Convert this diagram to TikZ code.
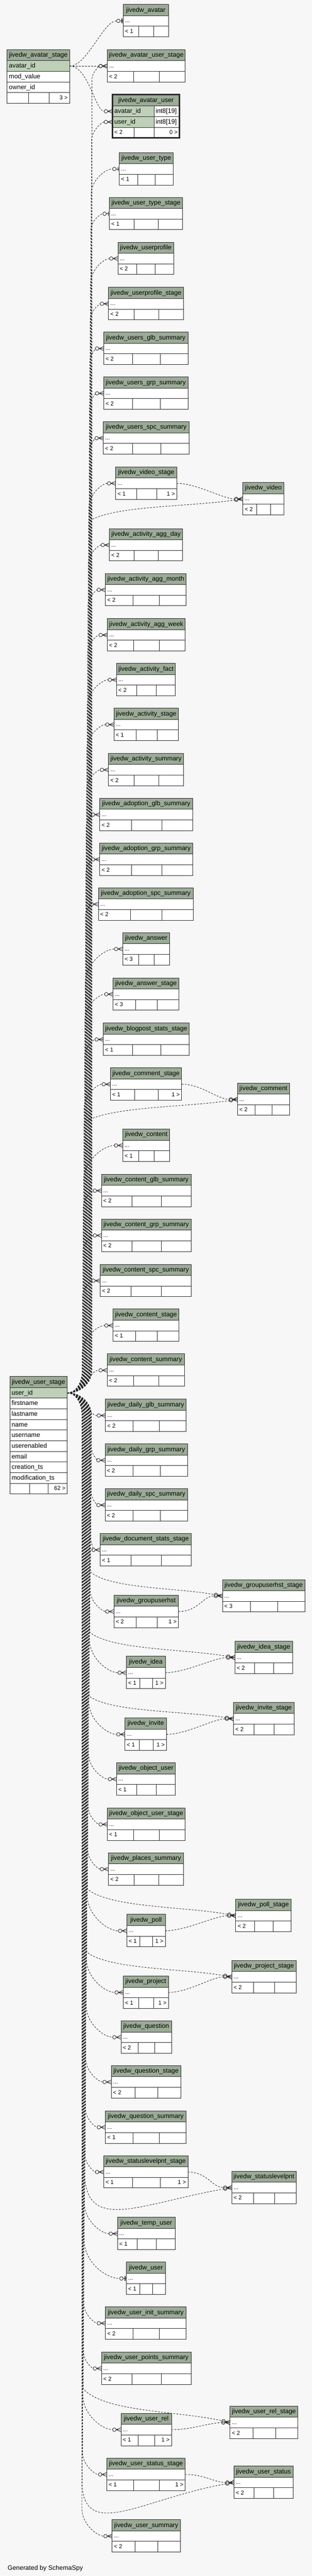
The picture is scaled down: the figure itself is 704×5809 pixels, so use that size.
\documentclass[tikz,border=0pt]{standalone}
\usepackage{fontspec}
\setmainfont{Liberation Sans}
\usepackage{xcolor}
\usepackage{tikz}
\usetikzlibrary{calc}

\definecolor{dwbg}{HTML}{F7F7F7}
\definecolor{dwhead}{HTML}{9BAB96}
\definecolor{dwkey}{HTML}{BED1B8}
\definecolor{dwline}{HTML}{2B2B2B}

\newcommand{\dwfont}{\fontsize{14.5}{16}\selectfont}
\newcommand{\dwsmall}{\fontsize{13}{15}\selectfont}

% zero-or-many and zero-or-one ends
\pgfdeclarearrow{
  name = crowodot,
  parameters = {},
  setup code = {
    \pgfarrowssettipend{0pt}
    \pgfarrowssetlineend{-19pt}
    \pgfarrowssetbackend{-19.5pt}
    \pgfarrowshullpoint{0pt}{4.5pt}
    \pgfarrowshullpoint{0pt}{-4.5pt}
    \pgfarrowshullpoint{-19.5pt}{0pt}
  },
  drawing code = {
    \pgfsetdash{}{0pt}
    \pgfsetroundjoin
    \pgfpathmoveto{\pgfqpoint{0pt}{4.5pt}}
    \pgfpathlineto{\pgfqpoint{-11pt}{0pt}}
    \pgfpathlineto{\pgfqpoint{0pt}{-4.5pt}}
    \pgfpathmoveto{\pgfqpoint{-11pt}{0pt}}
    \pgfpathlineto{\pgfqpoint{0pt}{0pt}}
    \pgfusepathqstroke
    \pgfpathcircle{\pgfqpoint{-15pt}{0pt}}{4pt}
    \pgfusepathqstroke
  }
}
\pgfdeclarearrow{
  name = teeodot,
  parameters = {},
  setup code = {
    \pgfarrowssettipend{0pt}
    \pgfarrowssetlineend{-15pt}
    \pgfarrowssetbackend{-15.5pt}
    \pgfarrowshullpoint{0pt}{5pt}
    \pgfarrowshullpoint{0pt}{-5pt}
    \pgfarrowshullpoint{-15.5pt}{0pt}
  },
  drawing code = {
    \pgfsetdash{}{0pt}
    \pgfpathmoveto{\pgfqpoint{-7pt}{0pt}}
    \pgfpathlineto{\pgfqpoint{0pt}{0pt}}
    \pgfusepathqstroke
    \pgfpathcircle{\pgfqpoint{-11pt}{0pt}}{4pt}
    \pgfusepathqstroke
    \pgfsetlinewidth{2pt}
    \pgfpathmoveto{\pgfqpoint{-2.5pt}{-5pt}}
    \pgfpathlineto{\pgfqpoint{-2.5pt}{5pt}}
    \pgfusepathqstroke
  }
}

\tikzset{
  dwcell/.style={draw=dwline, line width=1pt, inner sep=0pt, outer sep=0pt, minimum height=24pt},
  tabhead/.style={dwcell, fill=dwhead, minimum height=25pt, font=\dwfont, text height=11pt, text depth=2.5pt},
  tabrow/.style={dwcell, fill=white},
  keyrow/.style={dwcell, fill=dwkey},
  coltext/.style={anchor=west, inner sep=0pt, font=\dwfont, text height=11pt, text depth=2.5pt},
  foottext/.style={inner sep=0pt, font=\dwsmall, text height=10pt, text depth=2.5pt},
  reledge/.style={draw=black!85, line width=1pt, dash pattern=on 4pt off 3pt}
}

% footer row: name, node above, width, left text, right text
\newcommand{\dwfoot}[5]{%
  \node[tabrow, minimum width=#3pt, anchor=north west] (#1) at (#2.south west) {};
  \draw[dwline, line width=1pt] ([xshift=0.34*#3pt]#1.north west) -- ([xshift=0.34*#3pt]#1.south west)
    ([xshift=0.67*#3pt]#1.north west) -- ([xshift=0.67*#3pt]#1.south west);
  \node[foottext, anchor=west] at ([xshift=4pt]#1.west) {#4};
  \node[foottext, anchor=east] at ([xshift=-4pt]#1.east) {#5};}

% collapsed table: name, x, y, width, footer left, footer right
\newcommand{\dwtable}[6]{%
  \node[tabhead, minimum width=#4pt, anchor=north west] (#1-h) at (#2,#3) {jivedw\_\detokenize{#1}};
  \node[tabrow, minimum width=#4pt, anchor=north west] (#1) at (#1-h.south west) {};
  \node[foottext, anchor=west] at ([xshift=4pt]#1.west) {...};
  \dwfoot{#1-f}{#1}{#4}{#5}{#6}}

% edges from user_id of jivedw_user_stage, run through the bundle at x = #3
\newcommand{\upedge}[3][crowodot]{%
  \draw[reledge, -#1] let \p1=(#2.west), \p2=(uid.east), \n1={max(0.9*(\x1-#3pt),25pt)} in
    (\p2) .. controls ({\x2+0.6*(#3pt-\x2)},\y2) and (#3pt,\y2+25pt) .. (#3pt,\y2+50pt)
    -- (#3pt,\y1-\n1) .. controls (#3pt,{\y1-0.45*\n1}) and ({\x1-0.5*(\x1-#3pt)},\y1) .. (\p1);}
\newcommand{\downedge}[3][crowodot]{%
  \draw[reledge, -#1] let \p1=(#2.west), \p2=(uid.east), \n1={max(0.9*(\x1-#3pt),25pt)} in
    (\p2) .. controls ({\x2+0.6*(#3pt-\x2)},\y2) and (#3pt,\y2-25pt) .. (#3pt,\y2-50pt)
    -- (#3pt,\y1+\n1) .. controls (#3pt,{\y1+0.45*\n1}) and ({\x1-0.5*(\x1-#3pt)},\y1) .. (\p1);}
\newcommand{\rightup}[3]{%
  \draw[reledge, -crowodot] let \p1=(#1.west), \p2=(uid.east), \n1={\x1-#2pt} in
    (\p2) .. controls ({\x2+0.6*(#2pt-\x2)},\y2) and (#2pt,\y2+25pt) .. (#2pt,\y2+50pt)
    -- (#2pt,\y1-#3pt) .. controls ({#2pt+0.15*\n1},{\y1-0.3*#3pt}) and ({\x1-0.35*\n1},{\y1-0.35*#3pt}) .. (\p1);}
\newcommand{\rightdown}[3]{%
  \draw[reledge, -crowodot] let \p1=(#1.west), \p2=(uid.east), \n1={\x1-#2pt} in
    (\p2) .. controls ({\x2+0.6*(#2pt-\x2)},\y2) and (#2pt,\y2-25pt) .. (#2pt,\y2-50pt)
    -- (#2pt,\y1+#3pt) .. controls ({#2pt+0.15*\n1},{\y1+0.3*#3pt}) and ({\x1-0.35*\n1},{\y1+0.35*#3pt}) .. (\p1);}
\newcommand{\dipedge}[4]{%
  \draw[reledge, -crowodot] let \p1=(#1.west), \p2=(uid.east) in
    (\p2) .. controls ({\x2+0.6*(#2pt-\x2)},\y2) and (#2pt,\y2-25pt) .. (#2pt,\y2-50pt)
    -- (#2pt,{\y1-(#3pt)}) .. controls ({#2pt+10pt},{\y1-#4pt}) and ({\x1-200pt},{\y1-35pt}) .. (\p1);}

\begin{document}
\begin{tikzpicture}[x=1pt, y=-1pt]
  \useasboundingbox (0,0) rectangle (704,5809);
  \fill[dwbg] (0,0) rectangle (704,5809);

  % jivedw_avatar_stage
  \node[tabhead, minimum width=141pt, anchor=north west] (avatar_stage-h) at (16,112) {jivedw\_avatar\_stage};
  \node[keyrow, minimum width=141pt, anchor=north west] (avid) at (avatar_stage-h.south west) {};
  \node[coltext] at ([xshift=4pt]avid.west) {avatar\_id};
  \node[tabrow, minimum width=141pt, anchor=north west] (avmod) at (avid.south west) {};
  \node[coltext] at ([xshift=4pt]avmod.west) {mod\_value};
  \node[tabrow, minimum width=141pt, anchor=north west] (avowner) at (avmod.south west) {};
  \node[coltext] at ([xshift=4pt]avowner.west) {owner\_id};
  \dwfoot{avatar_stage-f}{avowner}{141}{}{3 >}

  % jivedw_avatar_user
  \node[tabhead, minimum width=151pt, minimum height=26pt, anchor=north west] (avatar_user-h) at (254,213) {jivedw\_avatar\_user};
  \node[keyrow, minimum width=94pt, anchor=north west] (auavatar) at (avatar_user-h.south west) {};
  \node[coltext] at ([xshift=4pt]auavatar.west) {avatar\_id};
  \node[tabrow, minimum width=57pt, anchor=north west] (auavtype) at (auavatar.north east) {};
  \node[coltext] at ([xshift=3pt]auavtype.west) {int8[19]};
  \node[keyrow, minimum width=94pt, anchor=north west] (auuser) at (auavatar.south west) {};
  \node[coltext] at ([xshift=4pt]auuser.west) {user\_id};
  \node[tabrow, minimum width=57pt, anchor=north west] (auustype) at (auuser.north east) {};
  \node[coltext] at ([xshift=3pt]auustype.west) {int8[19]};
  \node[tabrow, minimum width=151pt, anchor=north west] (avatar_user-f) at (auuser.south west) {};
  \draw[dwline, line width=1pt] ([xshift=49pt]avatar_user-f.north west) -- ([xshift=49pt]avatar_user-f.south west)
    ([xshift=94pt]avatar_user-f.north west) -- ([xshift=94pt]avatar_user-f.south west);
  \node[foottext, anchor=west] at ([xshift=4pt]avatar_user-f.west) {< 2};
  \node[foottext, anchor=east] at ([xshift=-4pt]avatar_user-f.east) {0 >};
  \draw[dwline, line width=3pt] (avatar_user-h.north west) rectangle (avatar_user-f.south east);

  % jivedw_user_stage
  \node[tabhead, minimum width=130pt, anchor=north west] (user_stage-h) at (22,3104) {jivedw\_user\_stage};
  \node[keyrow, minimum width=130pt, anchor=north west] (uid) at (user_stage-h.south west) {};
  \node[coltext] at ([xshift=4pt]uid.west) {user\_id};
  \foreach \c [count=\i] in {firstname,lastname,name,username,userenabled,email,creation\_ts,modification\_ts}{
    \node[tabrow, minimum width=130pt, anchor=north west] (uc\i) at (22,{3153+24*(\i-1)}) {};
    \node[coltext] at ([xshift=4pt]uc\i.west) {\c};
  }
  \dwfoot{user_stage-f}{uc8}{130}{}{62 >}

  % collapsed tables
  \dwtable{avatar}{278}{10}{102}{< 1}{}
  \dwtable{avatar_user_stage}{242}{112}{176}{< 2}{}
  \dwtable{user_type}{269}{344}{122}{< 1}{}
  \dwtable{user_type_stage}{247}{445}{165}{< 1}{}
  \dwtable{userprofile}{266}{546}{126}{< 2}{}
  \dwtable{userprofile_stage}{245}{648}{169}{< 2}{}
  \dwtable{users_glb_summary}{234}{749}{190}{< 2}{}
  \dwtable{users_grp_summary}{234}{850}{190}{< 2}{}
  \dwtable{users_spc_summary}{233}{951}{194}{< 2}{}
  \dwtable{video_stage}{261}{1053}{138}{< 1}{1 >}
  \dwtable{video}{548}{1088}{93}{< 2}{}
  \dwtable{activity_agg_day}{247}{1192}{165}{< 2}{}
  \dwtable{activity_agg_month}{238}{1293}{182}{< 2}{}
  \dwtable{activity_agg_week}{242}{1395}{176}{< 2}{}
  \dwtable{activity_fact}{263}{1496}{133}{< 2}{}
  \dwtable{activity_stage}{257}{1597}{146}{< 1}{}
  \dwtable{activity_summary}{245}{1699}{169}{< 2}{}
  \dwtable{adoption_glb_summary}{225}{1800}{210}{< 2}{}
  \dwtable{adoption_grp_summary}{225}{1901}{210}{< 2}{}
  \dwtable{adoption_spc_summary}{222}{2002}{214}{< 2}{}
  \dwtable{answer}{277}{2103}{106}{< 3}{}
  \dwtable{answer_stage}{255}{2205}{149}{< 3}{}
  \dwtable{blogpost_stats_stage}{233}{2307}{194}{< 1}{}
  \dwtable{comment_stage}{249}{2408}{161}{< 1}{1 >}
  \dwtable{comment}{536}{2442}{117}{< 2}{}
  \dwtable{content}{277}{2546}{106}{< 1}{}
  \dwtable{content_glb_summary}{229}{2648}{202}{< 2}{}
  \dwtable{content_grp_summary}{229}{2749}{202}{< 2}{}
  \dwtable{content_spc_summary}{226}{2851}{206}{< 2}{}
  \dwtable{content_stage}{255}{2952}{149}{< 1}{}
  \dwtable{content_summary}{242}{3053}{174}{< 2}{}
  \dwtable{daily_glb_summary}{238}{3155}{182}{< 2}{}
  \dwtable{daily_grp_summary}{237}{3256}{186}{< 2}{}
  \dwtable{daily_spc_summary}{237}{3357}{186}{< 2}{}
  \dwtable{document_stats_stage}{226}{3458}{206}{< 1}{}
  \dwtable{groupuserhst_stage}{502}{3562}{186}{< 3}{}
  \dwtable{groupuserhst}{257}{3597}{146}{< 2}{1 >}
  \dwtable{idea_stage}{530}{3701}{130}{< 2}{}
  \dwtable{idea}{285}{3735}{88}{< 1}{1 >}
  \dwtable{invite_stage}{527}{3839}{137}{< 2}{}
  \dwtable{invite}{282}{3874}{94}{< 1}{1 >}
  \dwtable{object_user}{263}{3975}{133}{< 1}{}
  \dwtable{object_user_stage}{242}{4077}{176}{< 1}{}
  \dwtable{places_summary}{245}{4178}{169}{< 2}{}
  \dwtable{poll_stage}{532}{4283}{125}{< 2}{}
  \dwtable{poll}{286}{4317}{87}{< 1}{1 >}
  \dwtable{project_stage}{523}{4421}{145}{< 2}{}
  \dwtable{project}{278}{4456}{102}{< 1}{1 >}
  \dwtable{question}{273}{4557}{114}{< 2}{}
  \dwtable{question_stage}{251}{4658}{157}{< 2}{}
  \dwtable{question_summary}{238}{4760}{182}{< 1}{}
  \dwtable{statuslevelpnt_stage}{234}{4861}{190}{< 1}{1 >}
  \dwtable{statuslevelpnt}{523}{4896}{145}{< 2}{}
  \dwtable{temp_user}{265}{5000}{130}{< 1}{}
  \dwtable{user}{285}{5101}{89}{< 1}{}
  \dwtable{user_init_summary}{238}{5202}{182}{< 2}{}
  \dwtable{user_points_summary}{229}{5304}{202}{< 2}{}
  \dwtable{user_rel_stage}{519}{5426}{153}{< 2}{}
  \dwtable{user_rel}{273}{5442}{114}{< 1}{1 >}
  \dwtable{user_status_stage}{241}{5543}{177}{< 1}{1 >}
  \dwtable{user_status}{528}{5561}{133}{< 2}{}
  \dwtable{user_summary}{253}{5682}{154}{< 2}{}

  \node[anchor=base west, inner sep=0pt, font=\dwfont] (gen) at (17,5795) {Generated by SchemaSpy};

  % avatar_stage relations
  \draw[reledge, -teeodot] (avid.east) .. controls +(40,0) and +(-45,0) .. (avatar.west);
  \draw[reledge, -crowodot] (avid.east) -- (avatar_user_stage.west);
  \draw[reledge, -crowodot] (avid.east) .. controls +(43,0) and +(-39,0) .. (auavatar.west);

  % user_stage relations, upwards
  \draw[reledge, -crowodot] (uid.east) .. controls +(40,0) and +(-40,0) .. (content_summary.west);
  \foreach \tgt/\xb in {content_stage/185.5, content_spc_summary/186.3, content_grp_summary/187,
      content_glb_summary/187.8, content/188.5, comment_stage/190, blogpost_stats_stage/190.8,
      answer_stage/191.5, answer/192.3, adoption_spc_summary/193, adoption_grp_summary/193.8,
      adoption_glb_summary/194.5, activity_summary/195.3, activity_stage/196, activity_fact/196.8,
      activity_agg_week/197.5, activity_agg_month/198.3, activity_agg_day/199, video_stage/200.5,
      users_spc_summary/201.3, users_grp_summary/202, users_glb_summary/202.8,
      userprofile_stage/203.5, userprofile/204.3, auuser/206.5, avatar_user_stage/207.3}{
    \upedge{\tgt}{\xb}
  }
  \upedge[teeodot]{user_type_stage}{205}
  \upedge[teeodot]{user_type}{205.8}
  \rightup{comment}{189.3}{53}
  \rightup{video}{199.8}{51}

  % user_stage relations, downwards
  \draw[reledge, -crowodot] (uid.east) .. controls +(40,0) and +(-40,0) .. (daily_glb_summary.west);
  \foreach \tgt/\xb in {daily_grp_summary/206.5, daily_spc_summary/205.8, document_stats_stage/205,
      groupuserhst/203.5, idea/202, invite/200.5, object_user/199.8, object_user_stage/199,
      places_summary/198.3, poll/196.8, project/195.3, question/194.5, question_stage/193.8,
      question_summary/193, statuslevelpnt_stage/192.3, temp_user/190.8, user_init_summary/189.3,
      user_points_summary/188.5, user_rel/187, user_status_stage/186.3, user_summary/184.8}{
    \downedge{\tgt}{\xb}
  }
  \downedge[teeodot]{user}{190}
  \rightdown{groupuserhst_stage}{204.3}{54}
  \rightdown{idea_stage}{202.8}{57}
  \rightdown{invite_stage}{201.3}{51}
  \rightdown{poll_stage}{197.5}{60}
  \rightdown{project_stage}{196}{56}
  \rightdown{user_rel_stage}{187.8}{76}
  \dipedge{statuslevelpnt}{191.5}{-20}{100}
  \dipedge{user_status}{185.5}{10}{130}

  % stage to target relations
  \foreach \a/\b in {video_stage/video, comment_stage/comment, groupuserhst/groupuserhst_stage,
      idea/idea_stage, invite/invite_stage, poll/poll_stage, project/project_stage,
      statuslevelpnt_stage/statuslevelpnt, user_rel/user_rel_stage, user_status_stage/user_status}{
    \draw[reledge, -crowodot] (\a.east) .. controls +(45,0) and +(-45,0) .. (\b.west);
  }
\end{tikzpicture}
\end{document}
